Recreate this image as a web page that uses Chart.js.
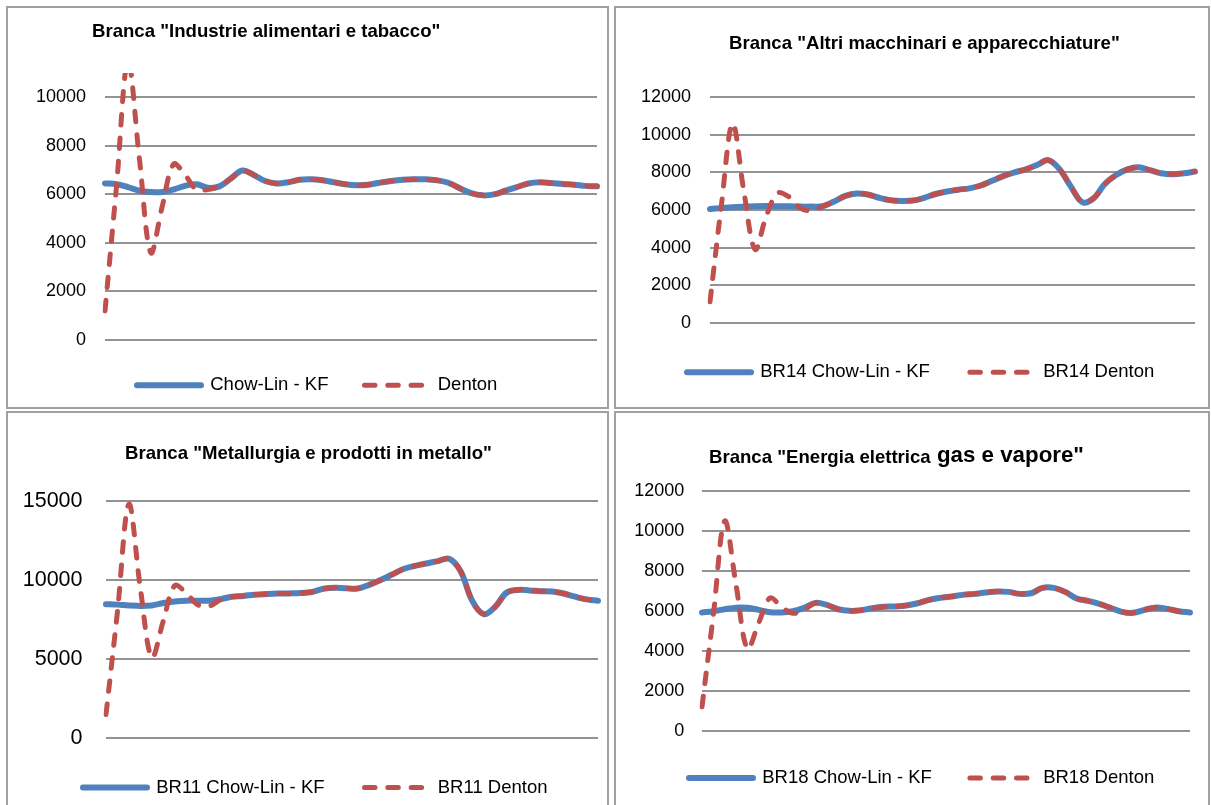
<!DOCTYPE html>
<html><head><meta charset="utf-8">
<script src="https://cdn.jsdelivr.net/npm/chart.js@4.4.1/dist/chart.umd.min.js"></script>
<style>
html,body{margin:0;padding:0;background:#fff;overflow:hidden;width:1211px;height:805px;}
.frame{position:absolute;border:2px solid #a0a0a0;box-sizing:border-box;}
canvas{position:absolute;}
.ttl{position:absolute;font-family:'Liberation Sans',Arial,sans-serif;font-weight:bold;line-height:1;white-space:pre;color:#000;}
</style></head><body>
<div class="frame" style="left:6px;top:6px;width:603px;height:403px"></div>
<div class="frame" style="left:614px;top:6px;width:596px;height:403px"></div>
<div class="frame" style="left:6px;top:411px;width:603px;height:409px"></div>
<div class="frame" style="left:614px;top:411px;width:596px;height:409px"></div>

<canvas id="c1" width="600" height="398" style="left:9px;top:9px"></canvas>
<canvas id="c2" width="590" height="398" style="left:616px;top:9px"></canvas>
<canvas id="c3" width="600" height="400" style="left:9px;top:413px"></canvas>
<canvas id="c4" width="590" height="400" style="left:616px;top:413px"></canvas>

<div class="ttl" style="left:92px;top:21.6px;font-size:18.6px">Branca "Industrie alimentari e tabacco"</div>
<div class="ttl" style="left:729px;top:34.3px;font-size:18.6px">Branca "Altri macchinari e apparecchiature"</div>
<div class="ttl" style="left:125px;top:444.3px;font-size:18.6px">Branca "Metallurgia e prodotti in metallo"</div>
<div class="ttl" style="left:709px;top:447.6px;font-size:18.6px">Branca "Energia elettrica</div>
<div class="ttl" style="left:937px;top:444.4px;font-size:22.3px">gas e vapore"</div>

<script>
// quarterly periods (no labels shown on the axis)
const periods = ['1','2','3','4','5','6','7','8','9','10','11','12','13','14','15','16','17','18','19','20','21','22','23','24','25','26','27','28','29','30','31','32','33','34','35','36','37','38','39','40','41','42','43','44'];

// Branca "Industrie alimentari e tabacco"
const alimTicks    = [0, 2000, 4000, 6000, 8000, 10000];
const alimChowLin = [6450,6420,6300,6150,6100,6100,6200,6350,6420,6270,6330,6650,6980,6800,6550,6450,6500,6600,6620,6580,6500,6420,6380,6400,6480,6550,6600,6620,6620,6580,6480,6250,6050,5960,6000,6150,6300,6450,6500,6470,6430,6400,6350,6330];
const alimDenton   = [1200,6300,11500,7500,3600,5500,7250,6800,6200,6200,6330,6650,6980,6800,6550,6450,6500,6600,6620,6580,6500,6420,6380,6400,6480,6550,6600,6620,6620,6580,6480,6250,6050,5960,6000,6150,6300,6450,6500,6470,6430,6400,6350,6330];

// Branca "Altri macchinari e apparecchiature" (BR14)
const br14Ticks    = [0, 2000, 4000, 6000, 8000, 10000, 12000];
const br14ChowLin = [6050,6100,6150,6180,6200,6210,6200,6200,6180,6180,6200,6450,6750,6880,6820,6650,6520,6480,6500,6650,6850,6980,7080,7150,7300,7550,7800,8000,8160,8390,8650,8160,7240,6420,6620,7380,7860,8160,8270,8120,7950,7900,7950,8040];
const br14Denton   = [1130,6200,10600,7000,3900,5700,6900,6700,6100,5970,6200,6450,6750,6880,6820,6650,6520,6480,6500,6650,6850,6980,7080,7150,7300,7550,7800,8000,8160,8390,8650,8160,7240,6420,6620,7380,7860,8160,8270,8120,7950,7900,7950,8040];

// Branca "Metallurgia e prodotti in metallo" (BR11)
const br11Ticks    = [0, 5000, 10000, 15000];
const br11ChowLin = [8480,8450,8400,8370,8400,8550,8650,8700,8700,8700,8800,8950,9000,9080,9120,9150,9160,9180,9250,9450,9520,9480,9470,9700,10000,10350,10700,10900,11050,11200,11350,10550,8700,7850,8300,9200,9380,9350,9300,9280,9150,8950,8780,8700];
const br11Denton   = [1500,8000,14800,9500,5100,7400,9650,9200,8450,8350,8750,8950,9000,9080,9120,9150,9160,9180,9250,9450,9520,9480,9470,9700,10000,10350,10700,10900,11050,11200,11350,10550,8700,7850,8300,9200,9380,9350,9300,9280,9150,8950,8780,8700];

// Branca "Energia elettrica gas e vapore" (BR18)
const br18Ticks    = [0, 2000, 4000, 6000, 8000, 10000, 12000];
const br18ChowLin = [5920,5980,6080,6160,6150,6050,5930,5920,5980,6150,6400,6300,6080,6000,6030,6130,6200,6220,6270,6380,6550,6650,6720,6800,6850,6920,6970,6950,6850,6880,7150,7150,6950,6620,6500,6350,6150,5950,5900,6050,6170,6100,5980,5920];
const br18Denton   = [1200,5800,10500,7300,4100,5400,6650,6200,5880,6050,6400,6300,6080,6000,6030,6130,6200,6220,6270,6380,6550,6650,6720,6800,6850,6920,6970,6950,6850,6880,7150,7150,6950,6620,6500,6350,6150,5950,5900,6050,6170,6100,5980,5920];

const BLUE = '#4F81BD', RED = '#C0504D', GRID = '#939393';
const FONT = "'Liberation Sans', Arial, sans-serif";

// moves the (centred) legend row so that its first sample starts at a given x
const legendShift = {
  id: 'legendShift',
  afterLayout(chart, args, opts) {
    const lg = chart.legend;
    if (!lg || !lg.lineWidths || opts.start == null) return;
    const p = lg.options.labels.padding;
    const start = (lg.left + p + lg.right - lg.lineWidths[0]) / 2;
    const dx = opts.start - start;
    lg.left += dx; lg.right += dx;
  }
};

function makeChart(id, c) {
  return new Chart(document.getElementById(id), {
    type: 'line',
    data: {
      labels: periods,
      datasets: [
        { label: c.names[0], data: c.cl, borderColor: BLUE, backgroundColor: BLUE, borderWidth: 6,
          pointRadius: 0, tension: 0.35, borderCapStyle: 'round', borderJoinStyle: 'round', order: 1 },
        { label: c.names[1], data: c.den, borderColor: RED, backgroundColor: RED, borderWidth: 5,
          borderDash: [10.5, 12.8], pointRadius: 0, tension: 0.35, borderCapStyle: 'round', borderJoinStyle: 'round', order: 0 }
      ]
    },
    plugins: [legendShift],
    options: {
      responsive: false, animation: false, devicePixelRatio: 1,
      layout: { padding: c.pad },
      plugins: {
        tooltip: { enabled: false },
        legendShift: { start: c.legStart },
        legend: {
          position: 'bottom',
          labels: {
            usePointStyle: true, pointStyle: 'line', pointStyleWidth: 64, padding: c.legPad,
            color: '#000', font: { family: FONT, size: 18.5 },
            generateLabels: chart => chart.data.datasets.map((ds, i) => ({
              text: ds.label, fillStyle: ds.borderColor, strokeStyle: ds.borderColor,
              lineWidth: ds.borderWidth, lineDash: ds.borderDash || [], lineCap: 'round',
              pointStyle: 'line', hidden: false, datasetIndex: i, fontColor: '#000'
            }))
          }
        }
      },
      scales: {
        x: { display: false },
        y: {
          min: 0, max: c.max,
          ticks: { padding: c.tickPad, color: '#000',
                   font: { family: FONT, size: c.tickSize }, callback: v => String(v) },
          grid: { color: GRID, lineWidth: 2, drawTicks: false },
          border: { display: false },
          afterFit: s => { s.width = c.yw; },
          afterBuildTicks: s => { s.ticks = c.ticks.map(v => ({ value: v })); }
        }
      }
    }
  });
}

makeChart('c1', { names: ['Chow-Lin - KF', 'Denton'], cl: alimChowLin, den: alimDenton, ticks: alimTicks,
  pad: { left: 0, right: 12, top: 64, bottom: 2.5 }, yw: 96, tickPad: 19, tickSize: 18, legPad: 36, legStart: 128,
  max: 11000 });
makeChart('c2', { names: ['BR14 Chow-Lin - KF', 'BR14 Denton'], cl: br14ChowLin, den: br14Denton, ticks: br14Ticks,
  pad: { left: 0, right: 11, top: 88, bottom: 15.5 }, yw: 94, tickPad: 19, tickSize: 18, legPad: 40, legStart: 71,
  max: 12000 });
makeChart('c3', { names: ['BR11 Chow-Lin - KF', 'BR11 Denton'], cl: br11ChowLin, den: br11Denton, ticks: br11Ticks,
  pad: { left: 0, right: 11, top: 88, bottom: 6.2 }, yw: 97, tickPad: 23.5, tickSize: 21.5, legPad: 40, legStart: 74,
  max: 15000 });
makeChart('c4', { names: ['BR18 Chow-Lin - KF', 'BR18 Denton'], cl: br18ChowLin, den: br18Denton, ticks: br18Ticks,
  pad: { left: 0, right: 16, top: 78, bottom: 15.8 }, yw: 86, tickPad: 17.8, tickSize: 18, legPad: 38, legStart: 73,
  max: 12000 });
</script>
</body></html>
